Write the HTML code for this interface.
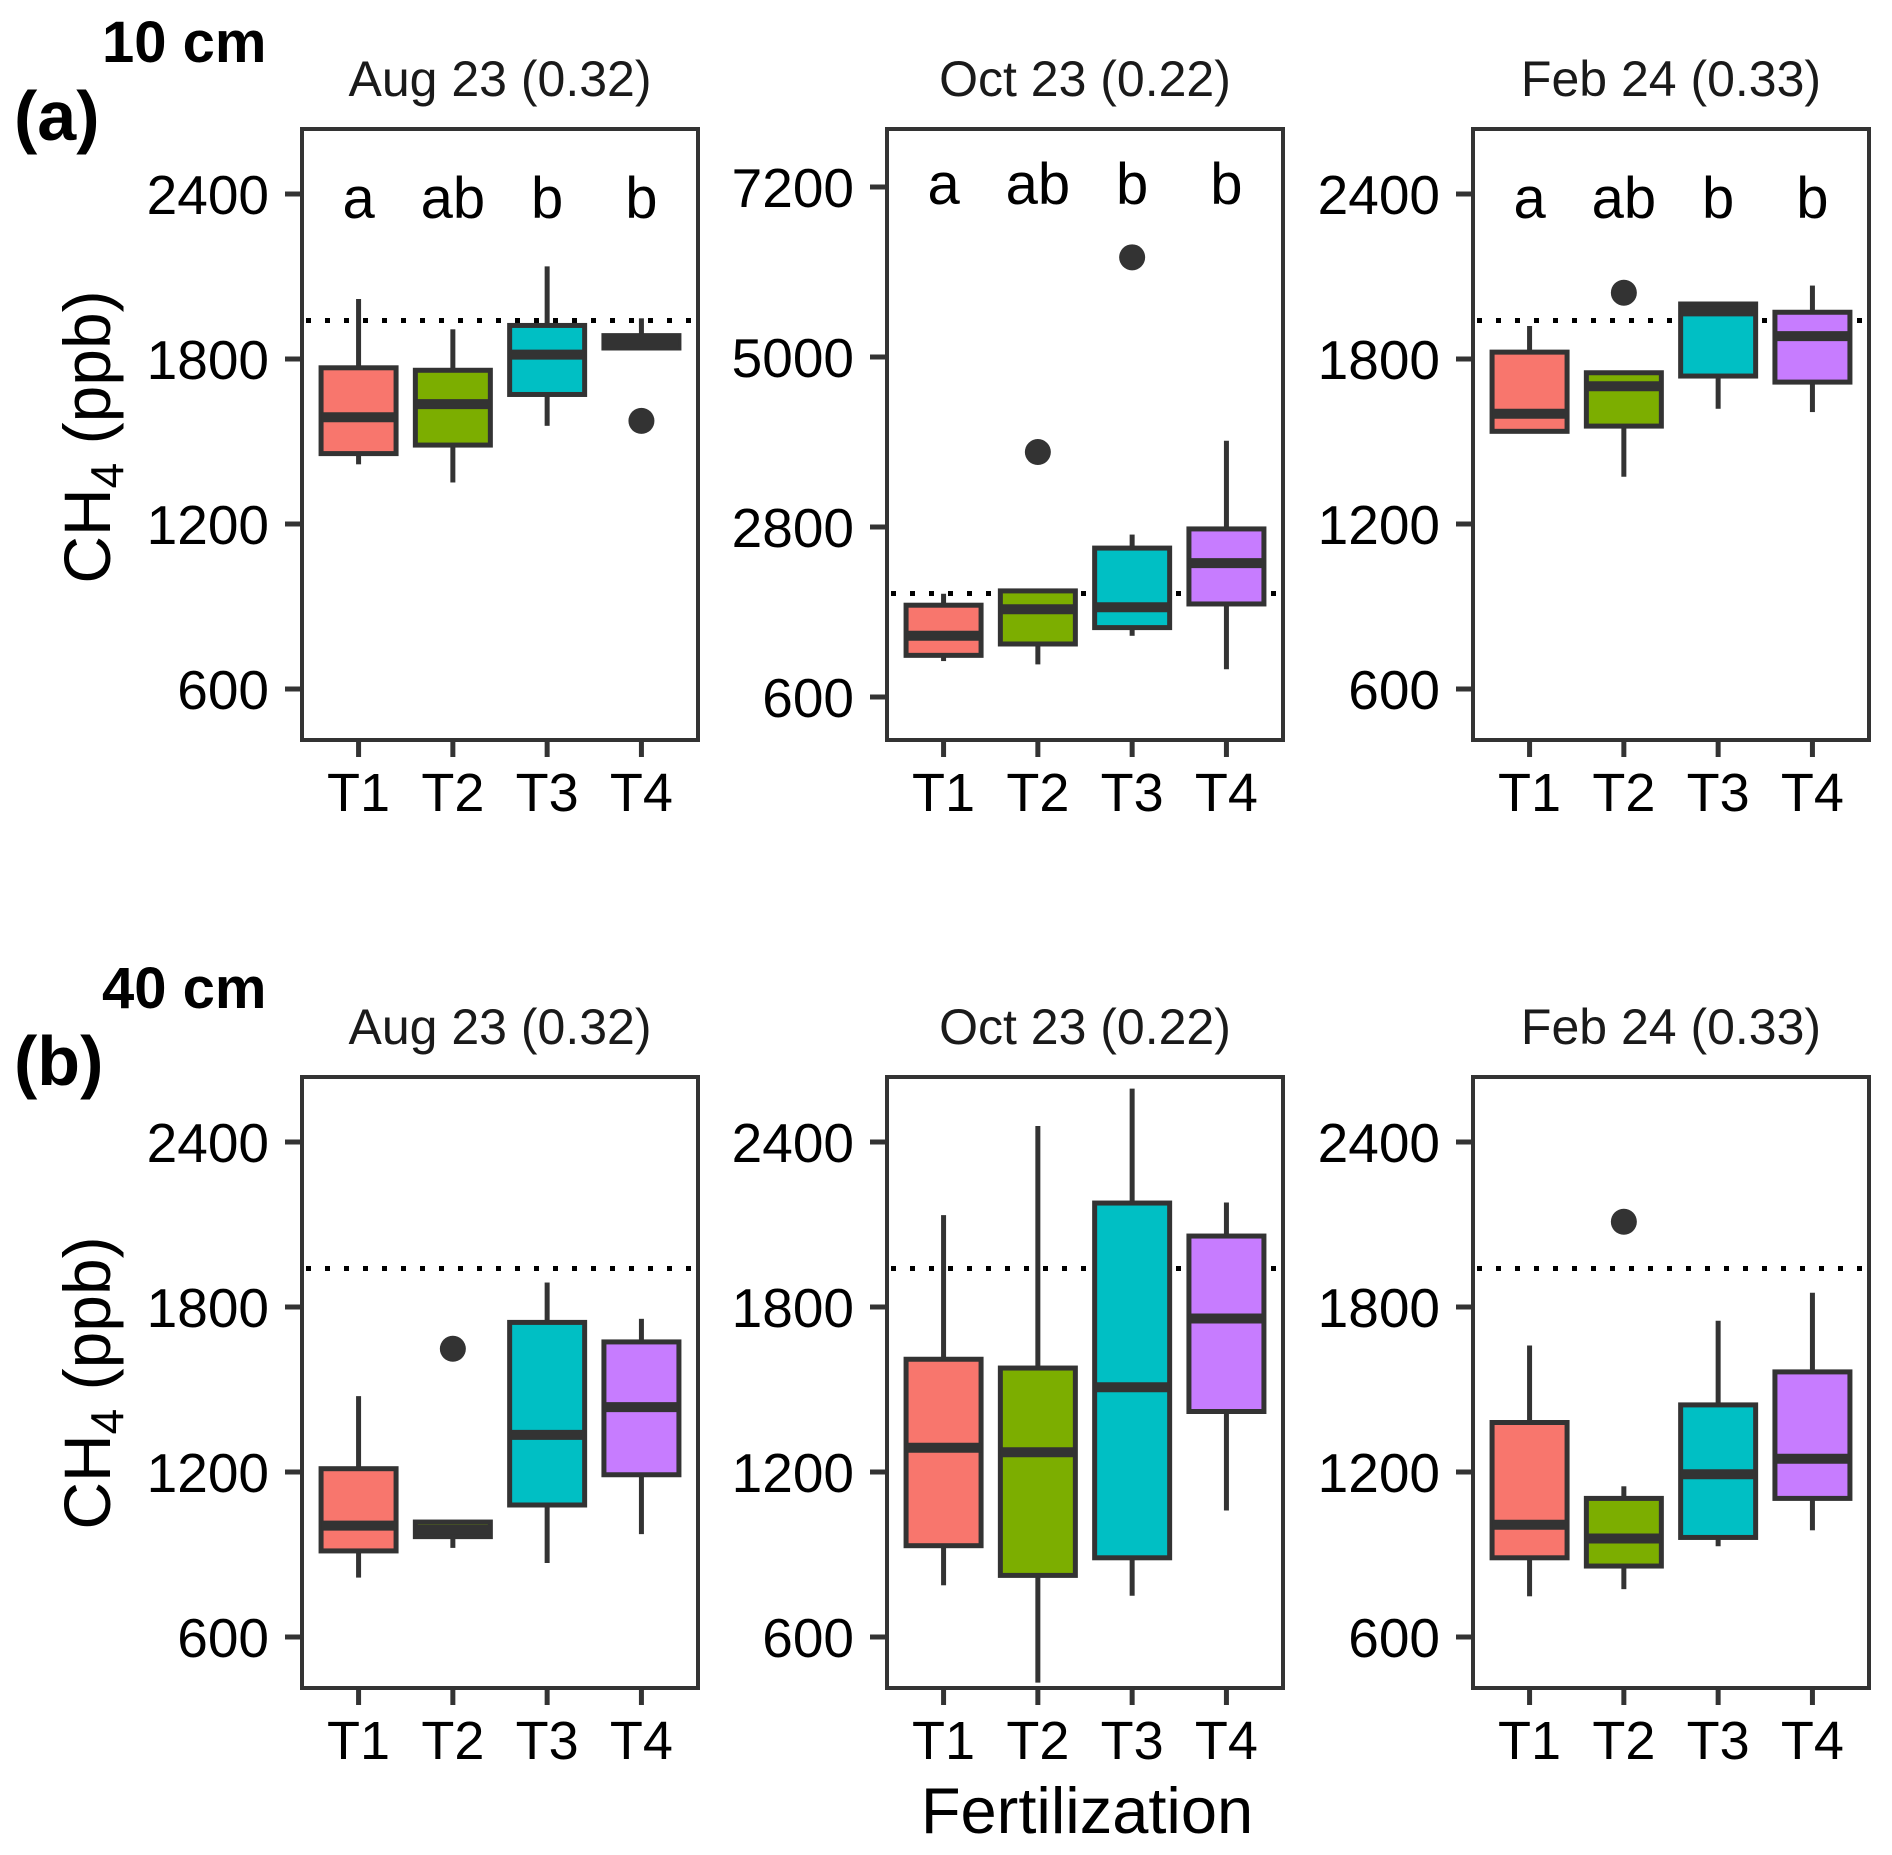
<!DOCTYPE html>
<html><head><meta charset="utf-8"><style>
html,body{margin:0;padding:0;background:#fff;}
svg{display:block;font-family:"Liberation Sans",Arial,sans-serif;}
</style></head><body>
<svg id="chart" width="1892" height="1855" viewBox="0 0 1892 1855" xmlns="http://www.w3.org/2000/svg"></svg>
<script>
const categories = ["T1","T2","T3","T4"];
const colors = ["#F8766D","#7CAE00","#00BFC4","#C77CFF"];
const panelTitles = ["Aug 23 (0.32)","Oct 23 (0.22)","Feb 24 (0.33)"];
const letters = ["a","ab","b","b"];
const refLine = 1940;
// tick labels
const ticksStd = [600,1200,1800,2400];
const ticksOct10 = [600,2800,5000,7200];
// 10 cm: [whiskerLow, Q1, median, Q3, whiskerHigh]
const aug10 = [[1417,1456,1588,1768,2018],[1351,1487,1636,1759,1908],[1557,1671,1816,1922,2137],[1840,1840,1860,1885,1948]];
const oct10 = [[1065,1139,1392,1788,1936],[1022,1286,1735,1973,1973],[1392,1498,1762,2527,2702],[959,1804,2332,2775,3916]];
const feb10 = [[1532,1537,1601,1825,1920],[1372,1556,1701,1750,1753],[1619,1738,1973,2000,2007],[1607,1716,1883,1970,2067]];
// 40 cm
const aug40 = [[816,913,1005,1212,1476],[924,965,990,1018,1018],[869,1080,1335,1744,1889],[974,1190,1436,1673,1757]];
const oct40 = [[788,932,1288,1610,2134],[434,824,1272,1578,2458],[750,888,1508,2178,2594],[1060,1420,1758,2058,2180]];
const feb40 = [[748,888,1008,1380,1660],[774,858,958,1104,1148],[930,962,1192,1444,1750],[988,1104,1248,1564,1852]];
// outliers [categoryIndex, value]
const outAug10 = [[3,1575]];
const outOct10 = [[1,3770],[2,6290]];
const outFeb10 = [[1,2041]];
const outAug40 = [[1,1648]];
const outOct40 = [];
const outFeb40 = [[1,2110]];

const NS="http://www.w3.org/2000/svg";
const svg=document.getElementById('chart');
function mk(tag,attrs,parent){const e=document.createElementNS(NS,tag);for(const k in attrs)e.setAttribute(k,attrs[k]);(parent||svg).appendChild(e);return e;}
const DARK="#333333";
const colX=[302,887,1473], PW=396, rowTop=[129,1077], PH=611;

function panel(ci,ri,stats,outs,ticks,v1,p1,v2,p2,showLetters,title){
  const x0=colX[ci], y0=rowTop[ri];
  const yS=v=>p1+(v-v1)*(p2-p1)/(v2-v1);
  const xS=i=>x0+(i+1-0.4)*PW/4.2;
  const bw=75;
  const g=mk('g',{});
  
  
  const t=mk('text',{x:x0+PW/2,y:y0-33,'font-size':50,'text-anchor':'middle',fill:'#1a1a1a'},g);
  t.textContent=title;
  
  
  const rl=mk('line',{x1:x0+4,x2:x0+PW,y1:yS(refLine),y2:yS(refLine),stroke:'#000','stroke-width':5,'stroke-dasharray':'5 14'},g);
  
  
  stats.forEach((s,i)=>{
    const cx=xS(i);
    const bg=mk('g',{},g);
    
    
    mk('line',{x1:cx,x2:cx,y1:yS(s[0]),y2:yS(s[1]),stroke:DARK,'stroke-width':5},bg);
    mk('line',{x1:cx,x2:cx,y1:yS(s[3]),y2:yS(s[4]),stroke:DARK,'stroke-width':5},bg);
    mk('rect',{x:cx-bw/2,y:yS(s[3]),width:bw,height:Math.max(yS(s[1])-yS(s[3]),1),fill:colors[i],stroke:DARK,'stroke-width':5},bg);
    mk('line',{x1:cx-bw/2,x2:cx+bw/2,y1:yS(s[2]),y2:yS(s[2]),stroke:DARK,'stroke-width':10},bg);
  });
  outs.forEach(o=>{
    const c=mk('circle',{cx:xS(o[0]),cy:yS(o[1]),r:13,fill:DARK},g);
    
    
  });
  if(showLetters){
    letters.forEach((l,i)=>{
      const lt=mk('text',{x:xS(i),y:showLetters,'font-size':58,'text-anchor':'middle',fill:'#000'},g);
      lt.textContent=l;
      
      
    });
  }
  const fr=mk('rect',{x:x0,y:y0,width:PW,height:PH,fill:'none',stroke:DARK,'stroke-width':4},g);
  
  
  ticks.forEach(v=>{
    const y=yS(v);
    mk('line',{x1:x0-17,x2:x0,y1:y,y2:y,stroke:DARK,'stroke-width':5},g);
    const tl=mk('text',{x:x0-33,y:y+20,'font-size':55,'text-anchor':'end',fill:'#000'},g);
    tl.textContent=v;
    
    
  });
  categories.forEach((c,i)=>{
    const x=xS(i);
    mk('line',{x1:x,x2:x,y1:y0+PH,y2:y0+PH+17,stroke:DARK,'stroke-width':5},g);
    const xl=mk('text',{x:x,y:y0+PH+71,'font-size':54,'text-anchor':'middle',fill:'#000'},g);
    xl.textContent=c;
    
    
  });
}
panel(0,0,aug10,outAug10,ticksStd,2400,194,600,689,218,panelTitles[0]);
panel(1,0,oct10,outOct10,ticksOct10,7200,187,600,697,204,panelTitles[1]);
panel(2,0,feb10,outFeb10,ticksStd,2400,194,600,689,218,panelTitles[2]);
panel(0,1,aug40,outAug40,ticksStd,2400,1142,600,1637,0,panelTitles[0]);
panel(1,1,oct40,outOct40,ticksStd,2400,1142,600,1637,0,panelTitles[1]);
panel(2,1,feb40,outFeb40,ticksStd,2400,1142,600,1637,0,panelTitles[2]);

function txt(s,attrs,name){const e=mk('text',attrs);e.textContent=s;return e;}
txt('10 cm',{x:102,y:62,'font-size':58,'font-weight':'bold',fill:'#000'},'depth-label-10cm');
txt('(a)',{x:14,y:140,'font-size':70,'font-weight':'bold',fill:'#000'},'panel-label-a');
txt('40 cm',{x:102,y:1008,'font-size':58,'font-weight':'bold',fill:'#000'},'depth-label-40cm');
txt('(b)',{x:14,y:1085,'font-size':70,'font-weight':'bold',fill:'#000'},'panel-label-b');
[437,1383].forEach((cy,k)=>{
  const t=mk('text',{transform:'translate(110,'+cy+') rotate(-90)','font-size':66,'text-anchor':'middle',fill:'#000'});
  t.innerHTML='CH<tspan font-size="46" dy="13">4</tspan><tspan dy="-13"> (ppb)</tspan>';
  
  
});
txt('Fertilization',{x:1087,y:1833,'font-size':65,'text-anchor':'middle',fill:'#000'},'x-axis-title');
</script>
</body></html>
